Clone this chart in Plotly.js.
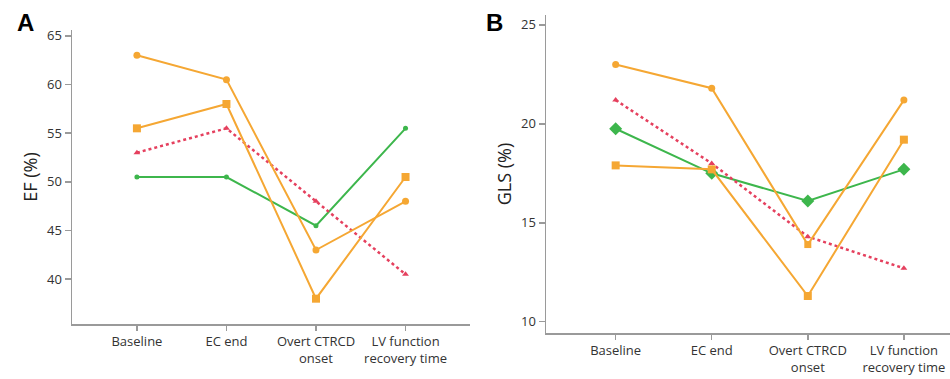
<!DOCTYPE html>
<html>
<head>
<meta charset="utf-8">
<script src="https://cdn.plot.ly/plotly-3.0.1.min.js"></script>
<style>html,body{margin:0;padding:0;background:#fff;}#chart{width:950px;height:379px;}</style>
</head>
<body>
<div id="chart"></div>
<script>
// Categories (time points)
const categories = ["Baseline", "EC end", "Overt CTRCD<br>onset", "LV function<br>recovery time"];
const efTicks = [40, 45, 50, 55, 60, 65];
const glsTicks = [10, 15, 20, 25];

// Panel A: EF (%)
const efOrangeCircle = [63, 60.5, 43, 48];
const efOrangeSquare = [55.5, 58, 38, 50.5];
const efRedDashed = [53, 55.5, 48, 40.5];
const efGreen = [50.5, 50.5, 45.5, 55.5];

// Panel B: GLS (%)
const glsOrangeCircle = [23.0, 21.8, 13.9, 21.2];
const glsOrangeSquare = [17.9, 17.7, 11.3, 19.2];
const glsRedDashed = [21.2, 18.0, 14.3, 12.7];
const glsGreen = [19.75, 17.5, 16.1, 17.7];

const ORANGE = "#F5A733";
const GREEN = "#3DB64C";
const RED = "#E5405E";

function tr(y, xa, ya, color, symbol, size, dash, width) {
  return {
    x: categories, y: y, xaxis: xa, yaxis: ya, type: "scatter", mode: "lines+markers",
    line: {color: color, width: width || 2, dash: dash || "solid"},
    marker: {color: color, symbol: symbol, size: size},
    showlegend: false, hoverinfo: "skip"
  };
}

const data = [
  tr(efGreen, "x", "y", GREEN, "circle", 5),
  tr(efRedDashed, "x", "y", RED, "triangle-up", 6, "dot", 2.5),
  tr(efOrangeSquare, "x", "y", ORANGE, "square", 8),
  tr(efOrangeCircle, "x", "y", ORANGE, "circle", 7),
  tr(glsGreen, "x2", "y2", GREEN, "diamond", 10),
  tr(glsRedDashed, "x2", "y2", RED, "triangle-up", 6, "dot", 2.5),
  tr(glsOrangeSquare, "x2", "y2", ORANGE, "square", 8),
  tr(glsOrangeCircle, "x2", "y2", ORANGE, ["circle", "circle", "square", "circle"], 7)
];

const axFont = {family: "Open Sans, Liberation Sans, sans-serif", size: 13, color: "#333"};
const lineCol = "#9a9a9a";

function xax(domain, range, anchor) {
  return {domain: domain, range: range, anchor: anchor, type: "category",
    showline: true, linecolor: lineCol, linewidth: 1.5, ticks: "outside", ticklen: 5,
    tickcolor: lineCol, tickwidth: 1.5, showgrid: false, zeroline: false, tickfont: axFont, fixedrange: true};
}
function yax(domain, range, anchor, tickvals, title) {
  return {domain: domain, range: range, anchor: anchor, tickvals: tickvals,
    showline: true, linecolor: lineCol, linewidth: 1.5, ticks: "outside", ticklen: 6,
    tickcolor: lineCol, tickwidth: 1.5, showgrid: false, zeroline: false, tickfont: axFont,
    title: {text: title, font: {family: "Open Sans, Liberation Sans, sans-serif", size: 18, color: "#222"}, standoff: 4},
    fixedrange: true};
}

const layout = {
  width: 950, height: 379, autosize: false,
  margin: {l: 0, r: 0, t: 0, b: 0},
  paper_bgcolor: "#fff", plot_bgcolor: "#fff",
  xaxis: xax([72/950, 470/950], [-0.725, 3.72], "y"),
  yaxis: yax([1 - 324/379, 1 - 30/379], [35.4, 65.6], "x", efTicks, "EF (%)"),
  xaxis2: xax([546/950, 1.0], [-0.725, 3.48], "y2"),
  yaxis2: yax([1 - 333/379, 1 - 15/379], [9.43, 25.5], "x2", glsTicks, "GLS (%)"),
  annotations: [
    {text: "<b>A</b>", x: 25/950, y: 1 - 22/379, xref: "paper", yref: "paper", showarrow: false,
     font: {family: "Liberation Sans, Arial, sans-serif", size: 24, color: "#000"}, xanchor: "center", yanchor: "middle"},
    {text: "<b>B</b>", x: 494/950, y: 1 - 22/379, xref: "paper", yref: "paper", showarrow: false,
     font: {family: "Liberation Sans, Arial, sans-serif", size: 24, color: "#000"}, xanchor: "center", yanchor: "middle"}
  ]
};

Plotly.newPlot("chart", data, layout, {displayModeBar: false, staticPlot: true});
</script>
</body>
</html>
